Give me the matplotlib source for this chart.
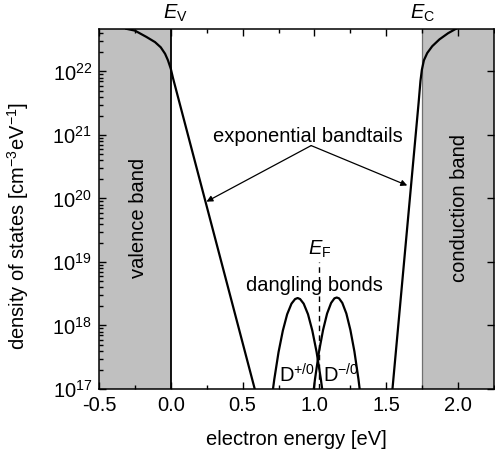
import matplotlib
matplotlib.use("Agg")
import matplotlib.pyplot as plt
from matplotlib.ticker import FixedLocator, LogLocator, FormatStrFormatter
from matplotlib.patches import Rectangle

plt.rcParams['font.family'] = ['Liberation Sans', 'DejaVu Sans']
plt.rcParams['mathtext.fontset'] = 'custom'
plt.rcParams['mathtext.rm'] = 'Liberation Sans'
plt.rcParams['mathtext.it'] = 'Liberation Sans:italic'

# band edges and Fermi level [eV]
E_v = 0.0
E_c = 1.75
E_f = 1.03

# valence band + valence bandtail
val_E = [-0.31, -0.25, -0.17, -0.11, -0.07, -0.04, -0.02, 0.0, 0.015, 0.59]
val_N = [4.7e22, 4.4e22, 3.5e22, 2.9e22, 2.4e22, 1.9e22, 1.5e22, 1.1e22, 7.9e21, 8.9e16]

# conduction band + conduction bandtail
con_E = [1.535, 1.725, 1.738, 1.748, 1.762, 1.785, 1.82, 1.87, 1.93, 1.985]
con_N = [6.3e16, 3.2e21, 7.1e21, 1.07e22, 1.5e22, 1.95e22, 2.5e22, 3.2e22, 4.0e22, 4.7e22]

# dangling bond states D+/0 and D-/0
dp_E = [0.69, 0.72, 0.75, 0.78, 0.81, 0.84, 0.865, 0.883, 0.90, 0.925, 0.955, 0.985, 1.015, 1.045, 1.075]
dp_N = [4.3e16, 1.4e17, 3.8e17, 8.3e17, 1.5e18, 2.2e18, 2.6e18, 2.7e18,
        2.6e18, 2.2e18, 1.5e18, 8.3e17, 3.8e17, 1.4e17, 4.3e16]
dm_E = [0.976, 1.004, 1.032, 1.060, 1.088, 1.116, 1.139, 1.155, 1.171, 1.194, 1.222, 1.250, 1.278, 1.306, 1.334]
dm_N = [4.4e16, 1.44e17, 3.9e17, 8.5e17, 1.54e18, 2.26e18, 2.67e18, 2.75e18,
        2.67e18, 2.26e18, 1.54e18, 8.5e17, 3.9e17, 1.44e17, 4.4e16]

x_min, x_max = -0.5, 2.25
y_min, y_max = 1e17, 4.7e22

fig = plt.figure(figsize=(4.95, 4.57), dpi=100)
ax = fig.add_axes([0.2, 0.149, 0.798, 0.788])
ax.set_yscale('log')
ax.set_xlim(x_min, x_max)
ax.set_ylim(y_min, y_max)

# shaded bands
ax.add_patch(Rectangle((x_min, y_min), E_v - x_min, y_max - y_min,
                       facecolor='#c0c0c0', edgecolor='none', zorder=0))
ax.add_patch(Rectangle((E_c, y_min), x_max - E_c, y_max - y_min,
                       facecolor='#c0c0c0', edgecolor='none', zorder=0))
ax.axvline(E_v, color='k', lw=1.3, zorder=1)
ax.axvline(E_c, color='#707070', lw=0.9, zorder=1)

lw = 1.6
ax.plot(val_E, val_N, color='k', lw=lw, zorder=3)
ax.plot(con_E, con_N, color='k', lw=lw, zorder=3)
ax.plot(dp_E, dp_N, color='k', lw=lw, zorder=3)
ax.plot(dm_E, dm_N, color='k', lw=lw, zorder=3)

# Fermi level
ax.plot([E_f, E_f], [y_min, 1.0e19], color='k', lw=1.0, ls=(0, (4, 3)), zorder=2)

fs = 14.5
ax.text(E_f + 0.005, 1.08e19, r'$\mathit{E}_{\mathrm{F}}$', ha='center', va='bottom', fontsize=fs)
ax.text(E_v + 0.035, 5.6e22, r'$\mathit{E}_{\mathrm{V}}$', ha='center', va='bottom', fontsize=fs)
ax.text(E_c + 0.005, 5.6e22, r'$\mathit{E}_{\mathrm{C}}$', ha='center', va='bottom', fontsize=fs)

ax.text(-0.226, 5.0e19, 'valence band', rotation=90, ha='center', va='center', fontsize=fs)
ax.text(2.007, 7.0e19, 'conduction band', rotation=90, ha='center', va='center', fontsize=fs)
ax.text(0.955, 9.5e20, 'exponential bandtails', ha='center', va='center', fontsize=fs)
ax.text(1.0, 4.3e18, 'dangling bonds', ha='center', va='center', fontsize=fs)
ax.text(0.755, 1.1e17, r'D$^{+/0}$', ha='left', va='bottom', fontsize=fs)
ax.text(1.06, 1.1e17, r'D$^{-/0}$', ha='left', va='bottom', fontsize=fs)

arrow = dict(arrowstyle='-|>', color='k', lw=0.9, shrinkA=0, shrinkB=0, mutation_scale=9)
ax.annotate('', xy=(0.248, 8.9e19), xytext=(0.977, 6.8e20), arrowprops=arrow)
ax.annotate('', xy=(1.646, 1.6e20), xytext=(0.977, 6.8e20), arrowprops=arrow)

# axes styling
ax.xaxis.set_major_locator(FixedLocator([-0.5, 0.0, 0.5, 1.0, 1.5, 2.0]))
ax.xaxis.set_minor_locator(FixedLocator([-0.25, 0.25, 0.75, 1.25, 1.75, 2.25]))
ax.xaxis.set_major_formatter(FormatStrFormatter('%.1f'))
ax.yaxis.set_major_locator(LogLocator(base=10, numticks=10))
ax.yaxis.set_minor_locator(LogLocator(base=10, subs=range(2, 10), numticks=10))
ax.tick_params(which='both', direction='in', top=True, right=True, labelsize=fs, width=1.0, pad=5)
ax.tick_params(which='major', length=5)
ax.tick_params(which='minor', length=3)
ax.tick_params(axis='y', which='minor', right=False)
for s in ax.spines.values():
    s.set_linewidth(1.1)

ax.set_xlabel('electron energy [eV]', fontsize=fs, labelpad=11)
ax.set_ylabel(r'density of states [cm$^{-3}$eV$^{-1}$]', fontsize=fs)
ax.yaxis.set_label_coords(-0.172, 0.453)

fig.savefig('out.png', dpi=100)
